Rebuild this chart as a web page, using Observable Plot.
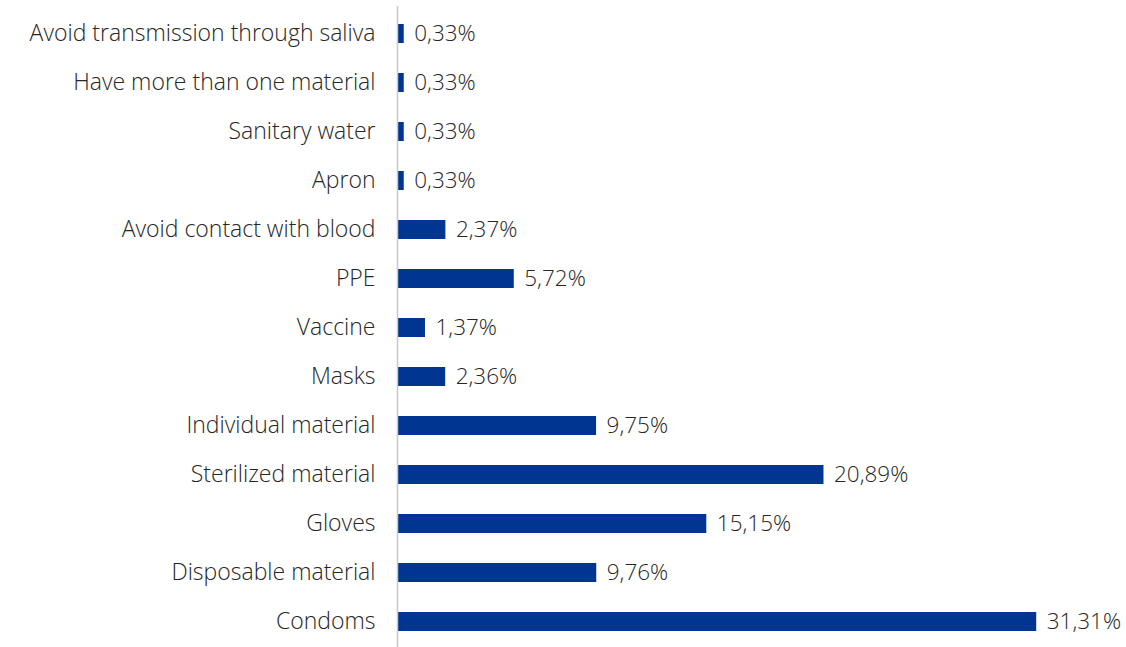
<!DOCTYPE html>
<html>
<head>
<meta charset="utf-8">
<script src="https://cdn.jsdelivr.net/npm/d3@7"></script>
<script src="https://cdn.jsdelivr.net/npm/@observablehq/plot@0.6"></script>
<style>
  html, body { margin: 0; padding: 0; background: #fff; }
  #chart svg { display: block; }
</style>
</head>
<body>
<div id="chart"></div>
<script>
const categories = [
  "Avoid transmission through saliva",
  "Have more than one material",
  "Sanitary water",
  "Apron",
  "Avoid contact with blood",
  "PPE",
  "Vaccine",
  "Masks",
  "Individual material",
  "Sterilized material",
  "Gloves",
  "Disposable material",
  "Condoms"
];
const values = [0.33, 0.33, 0.33, 0.33, 2.37, 5.72, 1.37, 2.36, 9.75, 20.89, 15.15, 9.76, 31.31];

const data = categories.map((c, i) => ({category: c, value: values[i]}));
const fmt = v => d3.format(".2f")(v).replace(".", ",") + "%";
const font = "'Open Sans', 'Noto Sans', sans-serif";

const chart = Plot.plot({
  width: 1126,
  height: 647,
  marginLeft: 397,
  marginRight: 90,
  marginTop: 6,
  marginBottom: -1,
  style: {fontFamily: font, background: "#fff"},
  x: {domain: [0, 31.3], axis: null},
  y: {domain: categories, paddingInner: 0.615, paddingOuter: 0.3075, axis: null},
  marks: [
    Plot.barX(data, {x: "value", y: "category", fill: "#003591"}),
    Plot.ruleX([0], {stroke: "#c8c8c8", strokeWidth: 1.5}),
    Plot.axisY({tickSize: 0, tickPadding: 22, fontSize: 23, fontWeight: 300, fill: "#262626", label: null}),
    Plot.text(data, {x: "value", y: "category", text: d => fmt(d.value), dx: 10, textAnchor: "start", fontSize: 22.5, fontWeight: 300, fill: "#262626"})
  ]
});
document.getElementById("chart").appendChild(chart);
</script>
</body>
</html>
